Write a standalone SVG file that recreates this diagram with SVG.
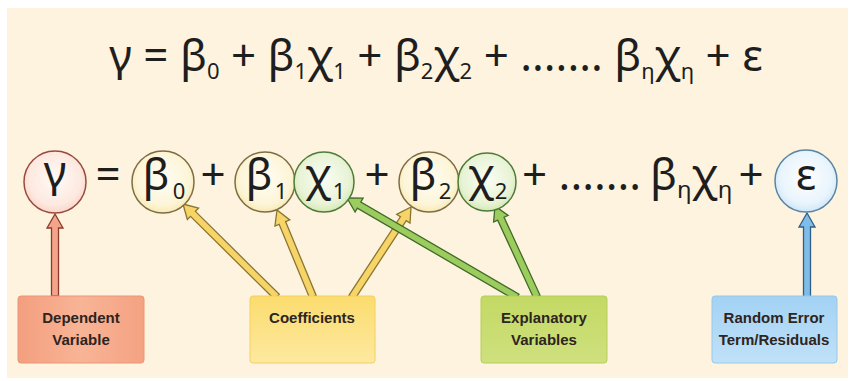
<svg xmlns="http://www.w3.org/2000/svg" width="850" height="381" viewBox="0 0 850 381">
<defs>
<radialGradient id="gRed" cx="0.5" cy="0.45" r="0.6"><stop offset="0" stop-color="#fffaf6"/><stop offset="0.7" stop-color="#fde9e0"/><stop offset="1" stop-color="#f8cfc2"/></radialGradient>
<radialGradient id="gYel" cx="0.5" cy="0.45" r="0.6"><stop offset="0" stop-color="#fffdf4"/><stop offset="0.7" stop-color="#fdf5d8"/><stop offset="1" stop-color="#f6e6a8"/></radialGradient>
<radialGradient id="gGrn" cx="0.5" cy="0.45" r="0.6"><stop offset="0" stop-color="#fafdf3"/><stop offset="0.7" stop-color="#e8f3d6"/><stop offset="1" stop-color="#cfe5a8"/></radialGradient>
<radialGradient id="gBlu" cx="0.5" cy="0.45" r="0.6"><stop offset="0" stop-color="#ffffff"/><stop offset="0.7" stop-color="#e8f4fc"/><stop offset="1" stop-color="#c4e2f6"/></radialGradient>
<linearGradient id="bRed" x1="0" y1="0" x2="1" y2="0"><stop offset="0" stop-color="#f39f7f"/><stop offset="0.5" stop-color="#f8b496"/><stop offset="1" stop-color="#f4a282"/></linearGradient>
<linearGradient id="bYel" x1="0" y1="0" x2="0" y2="1"><stop offset="0" stop-color="#fbdc6e"/><stop offset="1" stop-color="#fde9a0"/></linearGradient>
<linearGradient id="bGrn" x1="0" y1="0" x2="0" y2="1"><stop offset="0" stop-color="#c3d964"/><stop offset="1" stop-color="#cfe07e"/></linearGradient>
<linearGradient id="bBlu" x1="0" y1="0" x2="0" y2="1"><stop offset="0" stop-color="#a3d2f4"/><stop offset="1" stop-color="#c0e1f8"/></linearGradient>
</defs>
<style>
.eq{font-family:"Noto Sans","DejaVu Sans",sans-serif;fill:#1e1e1e}
.sub{font-size:22px}
.lbl{font-family:"Liberation Sans","Noto Sans",sans-serif;font-weight:bold;font-size:15px;fill:#2e2420;text-anchor:middle}
.arr{stroke-width:1.3;stroke-linejoin:miter}
.red{fill:#f4a48a;stroke:#8a3b2b}
.yel{fill:#f6d468;stroke:#8a7630}
.grn{fill:#9ccc5e;stroke:#3f6a28}
.blu{fill:#7fbde8;stroke:#2e5f86}
</style>
<rect x="7" y="8" width="841" height="370" fill="#fdf3de"/>

<text class="eq" x="436" y="71" font-size="44" text-anchor="middle">γ = β<tspan class="sub" dy="8">0</tspan><tspan dy="-8"> + β</tspan><tspan class="sub" dy="8">1</tspan><tspan dy="-8">χ</tspan><tspan class="sub" dy="8">1</tspan><tspan dy="-8"> + β</tspan><tspan class="sub" dy="8">2</tspan><tspan dy="-8">χ</tspan><tspan class="sub" dy="8">2</tspan><tspan dy="-8"> + ....... β</tspan><tspan class="sub" dy="8">η</tspan><tspan dy="-8">χ</tspan><tspan class="sub" dy="8">η</tspan><tspan dy="-8"> + ε</tspan></text>

<g id="connectors">
<polygon class="arr red" transform="translate(55,214) rotate(-90)" points="0,0 -14,-8 -14,-3.5 -82,-3.5 -82,3.5 -14,3.5 -14,8"/>
<polygon class="arr yel" transform="translate(183,204) rotate(-135.31)" points="0,0 -14,-8 -14,-3.5 -132,-3.5 -132,3.5 -14,3.5 -14,8"/>
<polygon class="arr yel" transform="translate(277,210) rotate(-112.48)" points="0,0 -14,-8 -14,-3.5 -94,-3.5 -94,3.5 -14,3.5 -14,8"/>
<polygon class="arr yel" transform="translate(411,207) rotate(-56.75)" points="0,0 -14,-8 -14,-3.5 -108,-3.5 -108,3.5 -14,3.5 -14,8"/>
<polygon class="arr grn" transform="translate(347,198) rotate(-149.78)" points="0,0 -14,-8 -14,-3.5 -197,-3.5 -197,3.5 -14,3.5 -14,8"/>
<polygon class="arr grn" transform="translate(495,206) rotate(-114.78)" points="0,0 -14,-8 -14,-3.5 -100,-3.5 -100,3.5 -14,3.5 -14,8"/>
<polygon class="arr blu" transform="translate(807,213) rotate(-90)" points="0,0 -14,-8 -14,-3.5 -84,-3.5 -84,3.5 -14,3.5 -14,8"/>
</g>

<g id="y">
<circle cx="55" cy="182" r="31" fill="url(#gRed)" stroke="#9a4a3c" stroke-width="1.5"/>
<text class="eq" x="55" y="187" font-size="44" text-anchor="middle">γ</text>
</g>
<text class="eq" x="108" y="190" font-size="44" text-anchor="middle">=</text>
<g id="b0">
<circle cx="163" cy="182" r="31" fill="url(#gYel)" stroke="#7d6d44" stroke-width="1.5"/>
<text class="eq" x="156" y="190" font-size="44" text-anchor="middle">β</text>
<text class="eq" x="179" y="199" font-size="22" text-anchor="middle">0</text>
</g>
<text class="eq" x="213" y="190" font-size="44" text-anchor="middle">+</text>
<g id="b1">
<circle cx="265" cy="182" r="30" fill="url(#gYel)" stroke="#7d6d44" stroke-width="1.5"/>
<text class="eq" x="259" y="190" font-size="44" text-anchor="middle">β</text>
<text class="eq" x="281" y="199" font-size="22" text-anchor="middle">1</text>
</g>
<g id="x1">
<circle cx="324" cy="182" r="30" fill="url(#gGrn)" stroke="#4e7a3a" stroke-width="1.5"/>
<text class="eq" x="318" y="190" font-size="44" text-anchor="middle">χ</text>
<text class="eq" x="339" y="199" font-size="22" text-anchor="middle">1</text>
</g>
<text class="eq" x="377" y="190" font-size="44" text-anchor="middle">+</text>
<g id="b2">
<circle cx="429" cy="182" r="30" fill="url(#gYel)" stroke="#7d6d44" stroke-width="1.5"/>
<text class="eq" x="423" y="190" font-size="44" text-anchor="middle">β</text>
<text class="eq" x="445" y="199" font-size="22" text-anchor="middle">2</text>
</g>
<g id="x2">
<circle cx="487" cy="182" r="29" fill="url(#gGrn)" stroke="#4e7a3a" stroke-width="1.5"/>
<text class="eq" x="481" y="190" font-size="44" text-anchor="middle">χ</text>
<text class="eq" x="501" y="199" font-size="22" text-anchor="middle">2</text>
</g>
<text class="eq" x="522" y="190" font-size="44">+ .......</text>
<text class="eq" x="650" y="190" font-size="44">β<tspan font-size="24" dy="8">η</tspan><tspan dy="-8">χ</tspan><tspan font-size="24" dy="8">η</tspan></text>
<text class="eq" x="751" y="190" font-size="44" text-anchor="middle">+</text>
<g id="e">
<circle cx="806" cy="181" r="31" fill="url(#gBlu)" stroke="#5a84a4" stroke-width="1.5"/>
<text class="eq" x="806" y="190" font-size="44" text-anchor="middle">ε</text>
</g>

<g id="dep">
<rect x="18" y="296" width="126" height="67" rx="3" fill="url(#bRed)" stroke="#eb9676" stroke-width="1"/>
<text class="lbl" x="81" y="323">Dependent</text>
<text class="lbl" x="81" y="345">Variable</text>
</g>
<g id="coef">
<rect x="250" y="296" width="125" height="67" rx="3" fill="url(#bYel)" stroke="#f4d060" stroke-width="1"/>
<text class="lbl" x="312" y="323">Coefficients</text>
</g>
<g id="expl">
<rect x="481" y="296" width="126" height="67" rx="3" fill="url(#bGrn)" stroke="#b6cf58" stroke-width="1"/>
<text class="lbl" x="544" y="323">Explanatory</text>
<text class="lbl" x="544" y="345">Variables</text>
</g>
<g id="rand">
<rect x="712" y="296" width="125" height="67" rx="3" fill="url(#bBlu)" stroke="#95c8ee" stroke-width="1"/>
<text class="lbl" x="774" y="323">Random Error</text>
<text class="lbl" x="774" y="345">Term/Residuals</text>
</g>
</svg>
